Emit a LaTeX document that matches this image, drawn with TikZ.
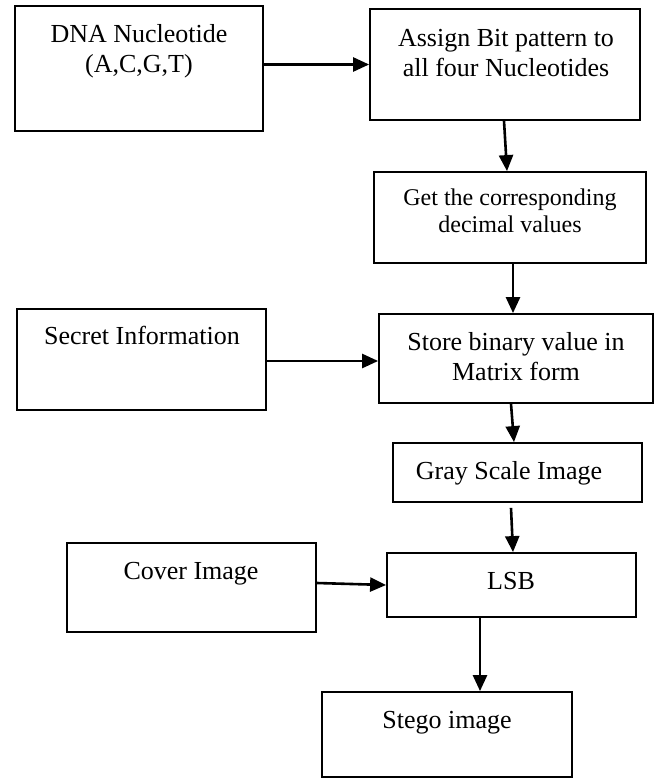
\documentclass[tikz,border=0pt]{standalone}
\usepackage{fontspec}
\setmainfont{Liberation Serif}
\usetikzlibrary{arrows.meta}

\begin{document}
\begin{tikzpicture}[x=1pt,y=-1pt,
		blk/.style={draw,line width=1.8pt,inner sep=0pt},
		arr/.style={line width=2.6pt,-{Triangle[length=16pt,width=14pt]}},
		lbl/.style={font=\fontsize{26}{30}\selectfont,inner sep=0pt},
		lbltwo/.style={lbl,align=center}]
		\useasboundingbox (0,0) rectangle (655,778);
		% boxes
		\node[blk,minimum width=248pt,minimum height=125pt] (dna) at (139,68.5) {};
		\node[blk,minimum width=270pt,minimum height=111pt] (assign) at (505,64.5) {};
		\node[blk,minimum width=272pt,minimum height=91pt] (get) at (510,217.5) {};
		\node[blk,minimum width=249pt,minimum height=101pt] (secret) at (141.5,359.5) {};
		\node[blk,minimum width=274pt,minimum height=89pt] (store) at (516,358.5) {};
		\node[blk,minimum width=249pt,minimum height=59pt] (gray) at (517.5,472.5) {};
		\node[blk,minimum width=249pt,minimum height=89pt] (cover) at (191.5,587.5) {};
		\node[blk,minimum width=249pt,minimum height=64pt] (lsb) at (511.5,585) {};
		\node[blk,minimum width=250pt,minimum height=85pt] (stego) at (447,734.5) {};
		% texts
		\node[lbltwo] (dnatxt) at (139,51.5) {DNA Nucleotide\\(A,C,G,T)};
		\node[lbltwo] (assigntxt) at (506,53) {Assign Bit pattern to\\all four Nucleotides};
		\node[lbltwo,font=\fontsize{24}{27}\selectfont] (gettxt) at (510,211) {Get the corresponding\\decimal values};
		\node[lbltwo] (storetxt) at (516,357) {Store binary value in\\Matrix form};
		\node[lbl,anchor=base] (secrettxt) at (142,344) {Secret Information};
		\node[lbl,anchor=base] (graytxt) at (509,479) {Gray Scale Image};
		\node[lbl,anchor=base] (covertxt) at (191,579) {Cover Image};
		\node[lbl,anchor=base] (lsbtxt) at (511,589) {LSB};
		\node[lbl,anchor=base] (stegotxt) at (447,728) {Stego image};
		% arrows
		\draw[arr] (dna.east |- assign.west) -- (assign.west);
		\draw[arr] ([xshift=-1pt]assign.south) -- ([xshift=-3pt]get.north);
		\draw[arr] ([xshift=3pt]get.south) -- ([xshift=-3pt]store.north);
		\draw[arr] ([yshift=-1.5pt]secret.east) -- ([yshift=-1.5pt]secret.east -| store.west);
		\draw[arr] ([xshift=-5pt]store.south) -- ([xshift=-3.5pt]gray.north);
		\draw[arr] ([xshift=-6.5pt,yshift=-5pt]gray.south) -- ([xshift=1.5pt]lsb.north);
		\draw[arr] ([yshift=4.5pt]cover.east) -- (lsb.west);
		\draw[arr] ([xshift=-31.5pt]lsb.south) -- ([xshift=33pt]stego.north);
	\end{tikzpicture}
\end{document}
